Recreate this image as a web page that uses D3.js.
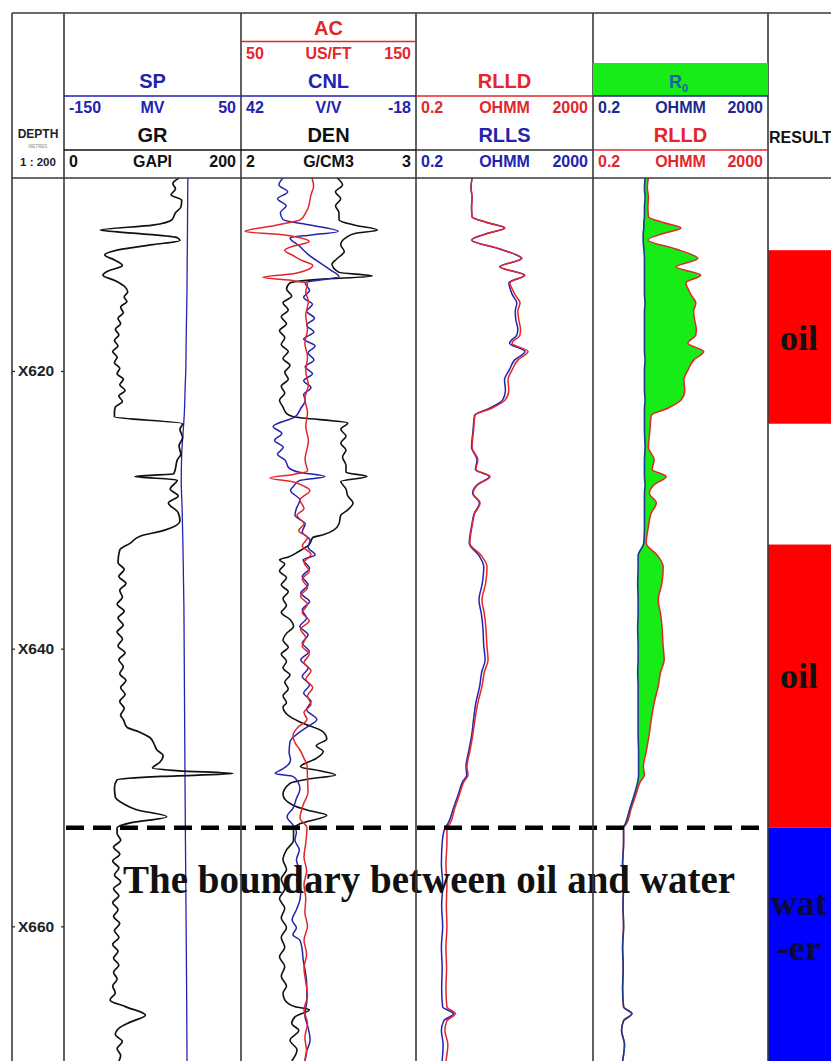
<!DOCTYPE html>
<html>
<head>
<meta charset="utf-8">
<script src="https://cdn.jsdelivr.net/npm/d3@7"></script>
<style>
  html, body { margin: 0; padding: 0; background: #fff; }
  svg { display: block; }
  text { font-family: "Liberation Sans", Arial, sans-serif; font-weight: bold; }
</style>
</head>
<body>
<svg id="log" width="831" height="1061"></svg>
<script>
// ---------------- Log data (depth in metres, value in curve units) ----------------
const depthRange = [606.1, 669.7];
const depthTicks = [620, 640, 660];
const depthTickLabels = ["X620", "X640", "X660"];
const oilWaterContact = 652.9;

// GR, GAPI
const grCurve = [
  [606.1,130],[606.5,123],[606.9,126],[607.3,121],[607.7,133],[608.2,132],[608.6,126],[609.1,122],
  [609.5,100],[609.85,41],[610.1,85],[610.4,128],[610.6,131],[610.9,100],[611.3,60],[611.65,46],
  [612.0,57],[612.4,66],[612.8,50],[613.1,44],[613.5,58],[613.95,69],[614.3,72],[614.67,68],
  [615.0,71],[615.4,64],[615.8,67],[616.2,61],[616.6,64],[617.0,58],[617.4,62],[617.8,57],
  [618.2,61],[618.6,55],[619.0,60],[619.4,57],[619.8,63],[620.2,60],[620.6,67],[621.0,63],
  [621.4,69],[621.8,62],[622.2,66],[622.6,58],[623.0,57],[623.3,57],[623.8,134],[624.2,131],
  [624.8,134],[625.4,130],[626.0,132],[626.4,128],[627.0,126],[627.4,124],[627.6,80],[627.85,128],
  [628.5,120],[629.0,129],[629.5,118],[630.2,129],[630.8,131],[631.46,114],[631.9,86],[632.4,75],
  [632.9,63],[633.8,61],[634.3,68],[634.8,62],[635.3,70],[635.8,63],[636.3,66],[636.8,60],
  [637.3,68],[637.8,61],[638.3,67],[638.8,60],[639.3,66],[639.8,61],[640.3,69],[640.8,62],
  [641.3,67],[641.8,63],[642.3,70],[642.8,64],[643.3,69],[643.8,63],[644.3,68],[644.8,64],
  [645.1,67],[645.65,71],[646.0,85],[646.4,97],[646.9,102],[647.3,105],[647.7,112],[648.2,108],
  [648.6,100],[648.8,130],[649.0,191],[649.2,110],[649.45,60],[650.0,57],[650.7,58],[651.2,68],
  [651.6,82],[652.1,116],[652.55,75],[652.9,60],[653.3,60],[653.8,64],
  [654.3,56],[654.8,63],[655.3,55],[655.8,62],[656.3,57],[656.8,64],[657.3,56],[657.8,62],
  [658.3,55],[658.8,61],[659.3,56],[659.8,63],[660.3,57],[660.8,62],[661.3,55],[661.8,61],
  [662.3,56],[662.8,62],[663.3,56],[663.8,60],[664.3,55],[664.8,58],[665.3,52],[665.8,70],
  [666.4,92],[666.9,75],[667.3,63],[667.8,58],[668.3,66],[668.8,60],[669.3,64],[669.7,62]
];

// SP, mV
const spCurve = [
  [606.1,-10],[608,-10.3],[610,-10.5],[612,-10.8],[614,-11],[616,-11.5],[618,-12],[620,-12.4],
  [621,-13],[623,-14],[624.5,-15.5],[626,-17],[628,-17.5],[630,-16.5],[633,-15.5],[637,-14.5],
  [642,-14],[647,-13.5],[652,-13],[656,-12.5],[660,-12],[664,-11.5],[669.7,-11]
];

// AC, us/ft
const acCurve = [
  [606.1,90.6],[606.7,91.5],[607.3,90],[607.7,89.4],[608.2,88.5],[608.6,87],[609.1,84],[609.5,70],
  [609.95,52.3],[610.2,75],[610.4,84],[610.7,89],[611.0,80],[611.3,75],[611.7,80],[612.0,84],
  [612.4,91],[612.8,86],[613.0,80],[613.25,62.6],[613.5,80],[613.7,88],[614.3,87],[615,88.5],
  [616,87],[617,88],[618,86.5],[619,88],[620,87],[621,88.5],[622,86.5],[623,88],[624,87],
  [625,88.5],[626.4,86.6],[627.2,88],[627.45,80],[627.7,66.6],[628.0,80],[628.3,86],[628.6,89.4],
  [629.3,83.7],[629.9,86],[630.4,82],[631,86],[631.5,83],[632,88],[632.6,85],[633.2,90],
  [633.8,86],[634.4,89],[635,85],[635.6,88],[636.2,84],[636.8,88],[637.4,85],[638,89],
  [638.6,84],[639.2,87],[639.8,85],[640.4,89],[641,86],[641.6,90],[642.2,87],[642.8,91],
  [643.4,88],[644,90],[644.6,86],[645.1,87.7],[645.65,82.6],[646.3,79.7],[646.8,81],[647.3,83.7],
  [647.9,86],[648.4,87.7],[649.3,88],[650.3,88.3],[651.3,85.4],[652.2,83.7],[652.9,87.7],[654,87],
  [655,86],[656,87.5],[657,86],[658,87],[659,86.5],[660,88],[661,86],[662,87.5],[663,86],
  [664,87],[665,88],[666,86],[667,88],[668,86.5],[669,87.5],[669.7,86.5]
];

// CNL, v/v
const cnlCurve = [
  [606.1,27.6],[606.6,29],[607.1,26],[607.6,29.5],[608.1,26.5],[608.6,28.5],[609.1,27.6],[609.5,18],
  [609.95,8.7],[610.2,18],[610.4,25.2],[611.0,22],[611.6,19],[612.2,15],[612.7,11.5],[613.2,8.4],
  [613.66,20],[614.2,18.5],[614.7,20.5],[615.2,17.5],[615.7,19.5],[616.2,16.8],[616.7,19.5],[617.2,17],
  [617.7,20.5],[618.2,16.6],[618.7,19],[619.2,17],[619.7,20],[620.2,17.5],[620.7,20.5],[621.2,18],
  [621.7,20.5],[622.1,20],[622.7,21.5],[623.3,23.5],[624.0,31],[624.5,28],[625.0,30.5],[625.5,27.5],
  [626.0,29.5],[626.4,27],[627.0,25.5],[627.3,22],[627.6,13.2],[627.9,22],[628.3,24],[628.6,25],
  [629.3,21.8],[629.9,23],[630.4,23.5],[631.0,20],[631.6,21],[632.2,18.3],[632.7,19],[633.26,16.6],
  [633.6,20.7],[634.2,18.5],[634.8,21],[635.4,19],[636,21.5],[636.6,18.5],[637.2,21],[637.8,19.5],
  [638.4,21.8],[639,19],[639.6,21],[640.2,18.6],[640.8,21.5],[641.4,19],[642,21],[642.6,18.5],
  [643.2,20.5],[643.8,18],[644.4,19.5],[645.1,16],[645.6,19],[646.0,21.8],[646.7,25.2],[647.5,25.5],
  [648.0,25],[648.4,26],[648.7,28],[649.0,30.3],[649.2,24.2],[649.6,22.5],[650.1,21.8],[650.8,23],
  [651.5,24.2],[652.1,26.2],[652.7,24.2],[653.2,23],[653.8,23.5],[654.5,22],[655.2,23],[656,22],
  [656.7,22.8],[657.4,21.5],[658.1,21.8],[658.8,23],[659.55,24.5],[660.1,23],[660.6,24.2],[661.0,21.8],
  [661.7,21],[662.4,20.7],[663.2,20],[664,19.5],[665.3,19.4],[666.4,20.1],[667.3,19],[668.2,18.3],
  [669,19.5],[669.7,20.1]
];

// DEN, g/cm3
const denCurve = [
  [606.1,2.55],[606.6,2.58],[607.1,2.54],[607.6,2.57],[608.1,2.54],[608.6,2.56],[609.1,2.56],[609.5,2.65],
  [609.85,2.78],[610.1,2.65],[610.4,2.6],[610.9,2.57],[611.4,2.59],[611.9,2.55],[612.3,2.52],[612.9,2.56],
  [613.16,2.75],[613.4,2.45],[613.65,2.28],[614.1,2.26],[614.6,2.29],[615.1,2.24],[615.6,2.27],[616.1,2.23],
  [616.6,2.26],[617.1,2.22],[617.6,2.25],[618.1,2.23],[618.6,2.27],[619.1,2.24],[619.6,2.28],[620.1,2.25],
  [620.6,2.27],[621.1,2.23],[621.6,2.25],[622.1,2.22],[622.6,2.24],[623.05,2.26],[623.3,2.3],[623.75,2.61],
  [624.2,2.57],[624.7,2.6],[625.2,2.57],[625.7,2.6],[626.2,2.58],[626.8,2.6],[627.3,2.6],[627.6,2.72],
  [627.95,2.57],[628.5,2.6],[629.0,2.61],[629.5,2.64],[630.0,2.61],[630.4,2.57],[631.0,2.56],[631.46,2.53],
  [631.8,2.47],[632.0,2.41],[632.5,2.39],[633.0,2.33],[633.4,2.27],[633.6,2.22],[633.9,2.25],[634.4,2.22],
  [634.9,2.26],[635.4,2.23],
  [635.9,2.27],[636.4,2.24],[636.9,2.26],[637.4,2.23],[637.9,2.28],[638.4,2.3],[638.9,2.26],[639.4,2.24],
  [639.9,2.27],[640.4,2.23],[640.9,2.26],[641.4,2.24],[641.9,2.28],[642.4,2.25],[642.9,2.27],[643.4,2.24],
  [643.9,2.26],[644.2,2.24],[644.9,2.28],[645.3,2.34],[646.0,2.47],[646.5,2.49],[647.0,2.43],[647.4,2.47],
  [647.9,2.43],[648.5,2.34],[648.8,2.45],[649.1,2.54],[649.4,2.38],[649.7,2.28],[650.5,2.24],[651.3,2.3],
  [651.7,2.4],[652.0,2.49],[652.6,2.34],[652.9,2.3],[653.8,2.3],[654.5,2.26],[655.2,2.24],[655.9,2.26],
  [656.6,2.23],[657.3,2.25],[658,2.22],[658.7,2.25],[659.4,2.23],[660.1,2.26],[660.8,2.23],[661.5,2.25],
  [662.2,2.22],[662.9,2.25],[663.6,2.23],[664.3,2.26],[664.8,2.24],[665.3,2.25],[665.8,2.31],[666.0,2.39],
  [666.5,2.31],[667.0,2.29],[667.5,2.33],[668.2,2.28],[668.9,2.32],[669.7,2.29]
];

// Resistivity rows: [depth, RLLD, RLLS, R0] in ohm.m
const resistivityLog = [
  [606.1,3.7,3.7,3.1],[606.8,3.5,3.5,3.0],[607.5,3.7,3.7,3.1],[608.2,3.6,3.6,3.0],[608.9,3.7,3.7,3.0],
  [609.3,8,8,2.9],[609.7,20.5,20,2.9],[610.1,8,8,2.8],[610.57,3.6,3.6,2.8],[611.2,15,15,2.9],
  [611.9,49.7,48,3.0],[612.5,15.8,15.5,3.0],[613.1,58,56,3.0],[613.66,26.6,25,3.0],[614.1,30,27,3.0],
  [614.5,34.5,30,3.0],[615.1,44.8,38,3.1],[615.7,40,35,3.0],[616.3,42,36,3.0],[617.0,46,40,3.0],
  [617.4,44.8,38,3.0],[618.0,29.6,26,3.0],[618.6,68,58,3.0],[619.2,40.4,34,3.1],[619.9,30,26,3.0],
  [620.65,24,20,3.0],[621.4,25,21,3.0],[622.1,20.5,18,3.1],[622.7,10,9,3.0],[623.2,4.3,4.2,3.0],
  [624.26,4.0,3.9,3.0],[625.5,3.7,3.6,3.1],[626.4,5.0,4.8,3.0],[627.1,4.5,4.4,3.0],[627.6,9.4,9,3.0],
  [628.2,5,4.8,3.1],[628.8,3.9,3.8,3.0],[629.5,5.6,5.4,3.0],[630.3,4.2,4.1,3.0],[631.2,3.7,3.6,3.0],
  [632.4,3.3,3.2,2.9],[633.3,6,5.3,2.15],[634.1,8.05,6.8,2.15],[635.3,7.5,6.3,2.1],[636.5,6.2,5.3,2.15],
  [637.5,7,6,2.15],[638.5,7.6,6.5,2.1],[639.8,8,6.8,2.15],[640.8,8.5,7.3,2.15],[641.7,7,6.1,2.1],
  [642.7,6.2,5.5,2.15],[643.9,5,4.5,2.15],[645.1,4.3,4.0,2.15],[646.3,3.8,3.6,2.15],[647.4,3.3,3.1,2.2],
  [648.5,2.84,2.7,2.2],[649.1,3.0,2.8,2.2],[649.6,2.4,2.25,2.1],[650.4,1.97,1.85,1.8],[651.5,1.5,1.4,1.4],
  [652.6,1.17,1.05,1.1],[652.9,1.0,0.9,1.0],[654.0,1.0,0.78,1.0],[655.5,0.95,0.75,0.95],[657.0,1.0,0.8,1.0],
  [658.5,0.97,0.76,0.97],[660.0,1.0,0.8,1.0],[661.5,0.95,0.75,0.95],[663.0,0.98,0.78,0.98],[664.5,0.95,0.76,0.95],
  [665.8,1.0,0.8,1.0],[666.3,1.55,1.4,1.55],[666.8,1.0,0.85,1.0],[667.5,0.9,0.75,0.9],[668.5,1.05,0.82,1.05],
  [669.7,0.95,0.78,0.95]
];

// Interpretation result intervals
const resultZones = [
  { top: 611.3, base: 623.8, fluid: "oil",   lines: ["oil"],        labelDepths: [618.5] },
  { top: 632.5, base: 652.9, fluid: "oil",   lines: ["oil"],        labelDepths: [642.8] },
  { top: 652.9, base: 669.7, fluid: "water", lines: ["wat", "-er"], labelDepths: [659.2, 662.4] }
];
const boundaryNote = "The boundary between oil and water";

// ---------------- Layout ----------------
const C = { red: "#e3262b", blue: "#2323b0", navy: "#1b2a8c", black: "#111", frame: "#3a3a3a", green: "#17ec17" };
const frameTop = 13, headerBottom = 178, pageBottom = 1061, frameLeft = 12, pageRight = 831;
const tracks = {
  depth: [12, 64], t1: [64, 241], t2: [241, 416], t3: [416, 593], t4: [593, 768], result: [768, 830]
};

const svg = d3.select("#log");
const y = d3.scaleLinear().domain(depthRange).range([headerBottom, pageBottom]);

const xGR  = d3.scaleLinear().domain([0, 200]).range(tracks.t1);
const xSP  = d3.scaleLinear().domain([-150, 50]).range(tracks.t1);
const xAC  = d3.scaleLinear().domain([50, 150]).range(tracks.t2);
const xCNL = d3.scaleLinear().domain([42, -18]).range(tracks.t2);
const xDEN = d3.scaleLinear().domain([2, 3]).range(tracks.t2);
const xRes3 = d3.scaleLog().domain([0.2, 2000]).range(tracks.t3);
const xRes4 = d3.scaleLog().domain([0.2, 2000]).range(tracks.t4);

// clip paths for each curve track
const defs = svg.append("defs");
["t1", "t2", "t3", "t4"].forEach(k => {
  defs.append("clipPath").attr("id", "clip-" + k)
    .append("rect")
    .attr("x", tracks[k][0]).attr("y", headerBottom)
    .attr("width", tracks[k][1] - tracks[k][0]).attr("height", pageBottom - headerBottom);
});

// ---------------- Result column ----------------
const resG = svg.append("g");
resG.selectAll("rect").data(resultZones).join("rect")
  .attr("x", tracks.result[0]).attr("width", 70)
  .attr("y", d => y(d.top)).attr("height", d => y(d.base) - y(d.top))
  .attr("fill", d => d.fluid === "oil" ? "#ff0000" : "#0000ff");
resultZones.forEach(z => {
  z.lines.forEach((t, i) => {
    resG.append("text")
      .attr("x", 799).attr("y", y(z.labelDepths[i]))
      .attr("text-anchor", "middle")
      .style("font-family", "'Liberation Serif', 'Times New Roman', serif")
      .style("font-size", "36px").style("font-weight", "bold")
      .attr("fill", z.fluid === "oil" ? "#111" : "#0a0a3c")
      .text(t);
  });
});

// ---------------- Curves ----------------
const lineFrom = (xs) => d3.line().curve(d3.curveMonotoneY).x(d => xs(d[1])).y(d => y(d[0]));

function drawCurve(track, data, xs, color, width) {
  svg.append("path")
    .attr("clip-path", "url(#clip-" + track + ")")
    .attr("d", lineFrom(xs)(data))
    .attr("fill", "none").attr("stroke", color)
    .attr("stroke-width", width).attr("stroke-linejoin", "round");
}

// Track 1: GR and SP
drawCurve("t1", spCurve, xSP, C.blue, 1.3);
drawCurve("t1", grCurve, xGR, C.black, 1.7);

// Track 2: DEN, CNL, AC
drawCurve("t2", denCurve, xDEN, C.black, 1.6);
drawCurve("t2", cnlCurve, xCNL, C.blue, 1.5);
drawCurve("t2", acCurve, xAC, C.red, 1.5);

// Track 3: RLLS and RLLD
const rllsRows = resistivityLog.map(r => [r[0], r[2]]);
const rlldRows = resistivityLog.map(r => [r[0], r[1]]);
const r0Rows = resistivityLog.map(r => [r[0], r[3]]);
drawCurve("t3", rllsRows, xRes3, C.blue, 1.5);
drawCurve("t3", rlldRows, xRes3, C.red, 1.5);

// Track 4: R0 vs RLLD with green fill where RLLD exceeds R0
svg.append("path")
  .attr("clip-path", "url(#clip-t4)")
  .attr("d", d3.area()
    .curve(d3.curveMonotoneY)
    .y(d => y(d[0]))
    .x0(d => xRes4(d[3]))
    .x1(d => xRes4(Math.max(d[1], d[3])))(resistivityLog))
  .attr("fill", C.green);
drawCurve("t4", rlldRows, xRes4, C.red, 1.5);
drawCurve("t4", r0Rows, xRes4, "#1a3a8e", 1.6);

// ---------------- Oil-water contact ----------------
svg.append("line")
  .attr("x1", 66).attr("x2", 766)
  .attr("y1", y(oilWaterContact)).attr("y2", y(oilWaterContact))
  .attr("stroke", "#000").attr("stroke-width", 4.5)
  .attr("stroke-dasharray", "18,9");

svg.append("text")
  .attr("x", 123).attr("y", 893)
  .attr("textLength", 612).attr("lengthAdjust", "spacingAndGlyphs")
  .style("font-family", "'Liberation Serif', 'Times New Roman', serif")
  .style("font-size", "40px").style("font-weight", "bold")
  .attr("fill", "#111")
  .text(boundaryNote);

// ---------------- Frame ----------------
const frame = svg.append("g").attr("stroke", C.frame).attr("stroke-width", 1.6);
frame.append("line").attr("x1", frameLeft).attr("x2", pageRight).attr("y1", frameTop).attr("y2", frameTop);
frame.append("line").attr("x1", frameLeft).attr("x2", pageRight).attr("y1", headerBottom).attr("y2", headerBottom);
[12, 64, 241, 416, 593, 768].forEach(x => {
  frame.append("line").attr("x1", x).attr("x2", x).attr("y1", frameTop).attr("y2", pageBottom);
});

// ---------------- Depth track ----------------
const depthAxis = d3.axisRight(y).tickValues(depthTicks)
  .tickFormat((d, i) => depthTickLabels[i]).tickSize(3).tickPadding(3);
const depthG = svg.append("g").attr("transform", "translate(12,0)").call(depthAxis);
depthG.select(".domain").remove();
depthG.selectAll(".tick line").attr("stroke", "#222").attr("stroke-width", 1.2);
depthG.selectAll(".tick text")
  .attr("fill", "#222").style("font-size", "15.5px").style("font-weight", "bold")
  .style("font-family", "'Liberation Sans', Arial, sans-serif");
const depthG2 = svg.append("g").attr("transform", "translate(64,0)")
  .call(d3.axisLeft(y).tickValues(depthTicks).tickFormat("").tickSize(3));
depthG2.select(".domain").remove();
depthG2.selectAll(".tick line").attr("stroke", "#222").attr("stroke-width", 1.2);

const hdr = svg.append("g");
hdr.append("text").attr("x", 38).attr("y", 138).attr("text-anchor", "middle")
  .style("font-size", "12px").attr("fill", "#222").text("DEPTH");
hdr.append("text").attr("x", 38).attr("y", 148).attr("text-anchor", "middle")
  .style("font-size", "4.5px").style("font-weight", "normal").attr("fill", "#8a8a8a").text("METRES");
hdr.append("text").attr("x", 38).attr("y", 166).attr("text-anchor", "middle")
  .style("font-size", "11.5px").attr("fill", "#222").text("1 : 200");

// ---------------- Curve headers ----------------
// slot 0 = bottom row, slot 1 = middle row, slot 2 = top row
const slots = [
  { title: 142, scale: 167, line: 150 },
  { title: 88,  scale: 113, line: 96 },
  { title: 35,  scale: 59,  line: 41.5 }
];
const curveHeaders = [
  { track: "t1", slot: 0, name: "GR",   unit: "GAPI",  lo: "0",    hi: "200",  color: C.black, line: C.black },
  { track: "t1", slot: 1, name: "SP",   unit: "MV",    lo: "-150", hi: "50",   color: C.blue,  line: C.blue },
  { track: "t2", slot: 0, name: "DEN",  unit: "G/CM3", lo: "2",    hi: "3",    color: C.black, line: C.black },
  { track: "t2", slot: 1, name: "CNL",  unit: "V/V",   lo: "42",   hi: "-18",  color: C.blue,  line: C.blue },
  { track: "t2", slot: 2, name: "AC",   unit: "US/FT", lo: "50",   hi: "150",  color: C.red,   line: C.red },
  { track: "t3", slot: 0, name: "RLLS", unit: "OHMM",  lo: "0.2",  hi: "2000", color: C.blue,  line: "#333" },
  { track: "t3", slot: 1, name: "RLLD", unit: "OHMM",  lo: "0.2",  hi: "2000", color: C.red,   line: C.red },
  { track: "t4", slot: 0, name: "RLLD", unit: "OHMM",  lo: "0.2",  hi: "2000", color: C.red,   line: C.red },
  { track: "t4", slot: 1, name: "R0",   unit: "OHMM",  lo: "0.2",  hi: "2000", color: C.navy,  line: C.navy, fill: C.green }
];

curveHeaders.forEach(h => {
  const [x0, x1] = tracks[h.track];
  const cx = (x0 + x1) / 2;
  const s = slots[h.slot];
  const g = hdr.append("g").attr("fill", h.color);
  if (h.fill) {
    g.append("rect").attr("x", x0).attr("y", 63).attr("width", x1 - x0).attr("height", s.line - 63)
      .attr("fill", h.fill);
  }
  g.append("line").attr("x1", x0).attr("x2", x1).attr("y1", s.line).attr("y2", s.line)
    .attr("stroke", h.line).attr("stroke-width", 1.5);
  if (h.name === "R0") {
    const t = g.append("text").attr("x", cx - 2).attr("y", s.title).attr("text-anchor", "middle")
      .attr("fill", "#1d5fa8").style("font-size", "18px");
    t.append("tspan").text("R");
    t.append("tspan").attr("dy", 4).style("font-size", "11px").text("0");
  } else {
    g.append("text").attr("x", cx).attr("y", s.title).attr("text-anchor", "middle")
      .style("font-size", "20px").text(h.name);
  }
  g.append("text").attr("x", x0 + 5).attr("y", s.scale).style("font-size", "16px").text(h.lo);
  g.append("text").attr("x", cx).attr("y", s.scale).attr("text-anchor", "middle")
    .style("font-size", "16px").text(h.unit);
  g.append("text").attr("x", x1 - 5).attr("y", s.scale).attr("text-anchor", "end")
    .style("font-size", "16px").text(h.hi);
});

hdr.append("text").attr("x", 769).attr("y", 143).style("font-size", "16px").attr("fill", "#111").text("RESULT");
</script>
</body>
</html>
